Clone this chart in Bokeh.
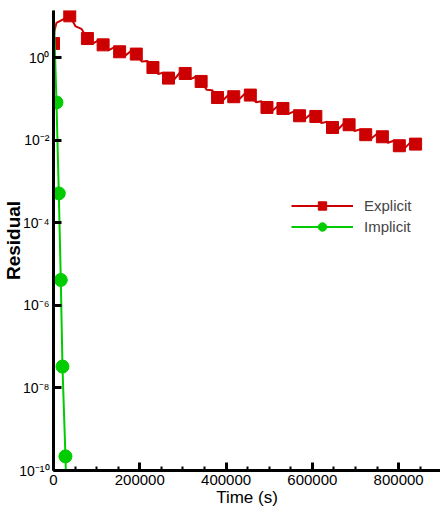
from bokeh.plotting import figure
from bokeh.models import FixedTicker, Legend, LegendItem, Range1d
from bokeh.embed import file_html
from bokeh.resources import INLINE

# ---- data ----
explicit_marker_t = [0, 37700, 78600, 115000, 153300, 191900, 230500, 266600,
                     305200, 342200, 380300, 417800, 456200, 494800, 531800,
                     570400, 608100, 646700, 685100, 723700, 762300, 801600, 839300]
explicit_marker_r = [2.22, 10.4, 2.93, 2.06, 1.40, 1.23, 0.582, 0.322,
                     0.417, 0.267, 0.109, 0.114, 0.125, 0.0626, 0.0592,
                     0.0394, 0.0379, 0.0205, 0.0239, 0.0137, 0.0122, 0.0074, 0.0081]

explicit_line_t = [0, 2300, 6900, 20000, 37700, 51300, 64970, 78600, 90700, 102900,
                   115000, 127800, 140500, 153300, 166200, 179000, 191900, 204800,
                   217600, 230500, 242500, 254600, 266600, 279500, 292300, 305200,
                   317500, 329900, 342200, 354900, 367600, 380300, 392800, 405300,
                   417800, 430600, 443400, 456200, 469100, 481900, 494800, 507100,
                   519500, 531800, 544700, 557500, 570400, 583000, 595500, 608100,
                   621000, 633800, 646700, 659500, 672300, 685100, 698000, 710800,
                   723700, 736600, 749400, 762300, 775400, 788500, 801600, 814200,
                   826700, 839300]
explicit_line_r = [2.22, 4.5, 7.03, 8.32, 10.4, 5.75, 5.01, 2.93, 2.21, 2.59,
                   2.06, 1.54, 1.78, 1.40, 1.13, 1.44, 1.23, 0.809,
                   0.837, 0.582, 0.405, 0.438, 0.322, 0.297, 0.428, 0.417,
                   0.303, 0.347, 0.267, 0.168, 0.164, 0.109, 0.0935, 0.126,
                   0.114, 0.0995, 0.135, 0.125, 0.0841, 0.0880, 0.0626, 0.0521,
                   0.0673, 0.0592, 0.0438, 0.0504, 0.0394, 0.0330, 0.0429, 0.0379,
                   0.0261, 0.0282, 0.0205, 0.0183, 0.0254, 0.0239, 0.0168, 0.0184,
                   0.0137, 0.0111, 0.0142, 0.0122, 0.00875, 0.00977, 0.0074, 0.00647,
                   0.00879, 0.0081]

implicit_line_t = [0, 6900, 12300, 16900, 20800, 27700, 31000]
implicit_line_r = [20.0, 0.0828, 5.18e-4, 4.14e-6, 3.3e-8, 2.2e-10, 1e-11]
implicit_marker_t = [6900, 12300, 16900, 20800, 27700]
implicit_marker_r = [0.0828, 5.18e-4, 4.14e-6, 3.3e-8, 2.2e-10]

x_major_ticks = [0, 200000, 400000, 600000, 800000]
x_tick_labels = ["0", "200000", "400000", "600000", "800000"]
x_minor_ticks = [50000, 100000, 150000, 250000, 300000, 350000, 450000, 500000,
                 550000, 650000, 700000, 750000, 850000]
y_tick_values = [1e-10, 1e-8, 1e-6, 1e-4, 1e-2, 1.0]
y_tick_labels = ["10\u207b\u00b9\u2070", "10\u207b\u2078", "10\u207b\u2076",
                 "10\u207b\u2074", "10\u207b\u00b2", "10\u2070"]

RED = "#cc0000"
GREEN = "#00cc00"
FONT = "Liberation Sans"

p = figure(width=440, height=513, y_axis_type="log",
           x_range=Range1d(0, 897000), y_range=Range1d(1e-10, 14),
           output_backend="svg", toolbar_location=None,
           min_border_left=52, min_border_top=10, min_border_right=0,
           min_border_bottom=43)
p.outline_line_color = None
p.grid.visible = False
p.background_fill_color = "white"

l1 = p.line(explicit_line_t, explicit_line_r, line_color=RED, line_width=2)
s1 = p.scatter(explicit_marker_t, explicit_marker_r, marker="square", size=12,
               fill_color=RED, line_color=RED)
l2 = p.line(implicit_line_t, implicit_line_r, line_color=GREEN, line_width=2)
s2 = p.scatter(implicit_marker_t, implicit_marker_r, marker="circle", size=13,
               fill_color=GREEN, line_color=GREEN)

# axes
xa = p.xaxis[0]
xa.ticker = FixedTicker(ticks=x_major_ticks, minor_ticks=x_minor_ticks)
xa.major_label_overrides = dict(zip(x_major_ticks, x_tick_labels))
xa.axis_label = "Time (s)"
ya = p.yaxis[0]
ya.ticker = FixedTicker(ticks=y_tick_values, minor_ticks=[])
ya.major_label_overrides = dict(zip(y_tick_values, y_tick_labels))
ya.axis_label = "Residual"

for ax in (xa, ya):
    ax.axis_line_width = 3
    ax.axis_line_color = "black"
    ax.major_tick_in = 8
    ax.major_tick_out = 0
    ax.minor_tick_in = 4
    ax.minor_tick_out = 0
    ax.major_tick_line_width = 3
    ax.minor_tick_line_width = 2
    ax.major_label_text_font = FONT
    ax.major_label_text_color = "black"
    ax.axis_label_text_font = FONT
    ax.axis_label_text_font_style = "normal"
    ax.axis_label_text_color = "black"

xa.major_label_text_font_size = "15px"
xa.axis_label_text_font_size = "17px"
xa.major_label_standoff = 4
xa.axis_label_standoff = 0
ya.major_label_text_font_size = "14px"
ya.major_label_standoff = 4
ya.axis_label_standoff = -8
ya.axis_label_text_font_style = "bold"
ya.axis_label_text_font_size = "19px"

legend = Legend(items=[LegendItem(label="Explicit", renderers=[l1, s1]),
                       LegendItem(label="Implicit", renderers=[l2, s2])],
                location=(238, 233), orientation="vertical",
                border_line_color=None, background_fill_alpha=0,
                padding=0, margin=0, spacing=0,
                glyph_width=62, glyph_height=21, label_height=21,
                label_standoff=11, label_text_font=FONT,
                label_text_font_size="15px")
p.add_layout(legend, "center")

open("out.html", "w").write(file_html(p, INLINE))
